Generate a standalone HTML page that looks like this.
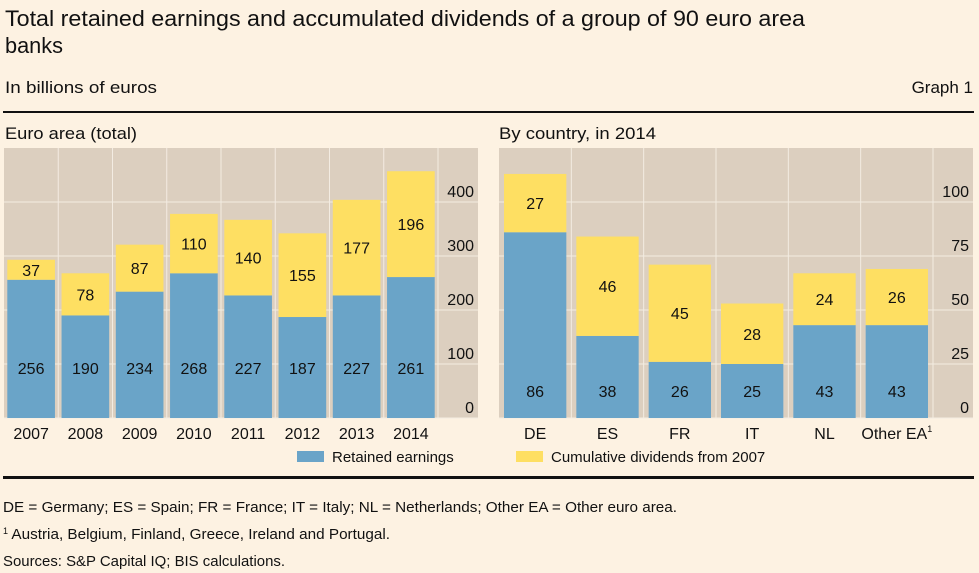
<!DOCTYPE html>
<html><head><meta charset="utf-8"><style>
html,body{margin:0;padding:0;background:#fdf2e2;}
svg{display:block;font-family:"Liberation Sans",sans-serif;}
</style></head><body>
<svg id="s" width="979" height="573" viewBox="0 0 979 573" xmlns="http://www.w3.org/2000/svg">
<rect width="979" height="573" fill="#fdf2e2"/>
<text x="5" y="26" font-size="22" fill="#111" textLength="800" lengthAdjust="spacingAndGlyphs">Total retained earnings and accumulated dividends of a group of 90 euro area</text>
<text x="5" y="53" font-size="22" fill="#111" textLength="58" lengthAdjust="spacingAndGlyphs">banks</text>
<text x="5" y="93" font-size="17" fill="#111" textLength="152" lengthAdjust="spacingAndGlyphs">In billions of euros</text>
<text x="973" y="93" font-size="17" fill="#111" text-anchor="end">Graph 1</text>
<rect x="3" y="111" width="971" height="2" fill="#111"/>
<text x="5" y="139" font-size="17" fill="#111" textLength="132" lengthAdjust="spacingAndGlyphs">Euro area (total)</text>
<text x="499" y="139" font-size="17" fill="#111" textLength="157" lengthAdjust="spacingAndGlyphs">By country, in 2014</text>
<g id="left"></g>
<g id="right"></g>
<rect x="297" y="451" width="27" height="11" fill="#6aa4c8"/>
<text x="332" y="462" font-size="15" fill="#111">Retained earnings</text>
<rect x="516" y="451" width="27" height="11" fill="#fedf62"/>
<text x="551" y="462" font-size="15" fill="#111">Cumulative dividends from 2007</text>
<rect x="3" y="476" width="971" height="3" fill="#111"/>
<text x="3" y="512" font-size="15" fill="#111" textLength="674" lengthAdjust="spacingAndGlyphs">DE = Germany; ES = Spain; FR = France; IT = Italy; NL = Netherlands; Other EA = Other euro area.</text>
<text x="3" y="539" font-size="15" fill="#111"><tspan font-size="9" dy="-5">1</tspan><tspan dy="5" textLength="382" lengthAdjust="spacingAndGlyphs"> Austria, Belgium, Finland, Greece, Ireland and Portugal.</tspan></text>
<text x="3" y="566" font-size="15" fill="#111" textLength="282" lengthAdjust="spacingAndGlyphs">Sources: S&amp;P Capital IQ; BIS calculations.</text>
</svg>
<script>
const yearCats = ["2007","2008","2009","2010","2011","2012","2013","2014"];
const yearRetained = [256,190,234,268,227,187,227,261];
const yearDividends = [37,78,87,110,140,155,177,196];
const leftTicks = [0,100,200,300,400];
const countryCats = ["DE","ES","FR","IT","NL","Other EA"];
const countryRetained = [86,38,26,25,43,43];
const countryDividends = [27,46,45,28,24,26];
const rightTicks = [0,25,50,75,100];

const NS="http://www.w3.org/2000/svg";
function mk(parent,tag,attrs){const e=document.createElementNS(NS,tag);for(const k in attrs)e.setAttribute(k,attrs[k]);parent.appendChild(e);return e;}

function chart(g,o){
  const y=v=>o.y0-(v/o.max)*(o.y0-o.yMax);
  const bg=mk(g,'rect',{x:o.x0,y:o.top,width:o.x1-o.x0,height:o.y0-o.top,fill:'#dccfbf'});
  
  
  const n=o.cats.length,bw=(o.xb-o.x0)/n;
  o.ticks.forEach(t=>{
    const l=mk(g,'line',{x1:o.x0,x2:o.x1,y1:y(t),y2:y(t),stroke:'#f3ece2','stroke-width':1});
    
    
    const tx=mk(g,'text',{x:o.x1-4,y:y(t)-5,'font-size':16,'text-anchor':'end',fill:'#111'});
    tx.textContent=t;
    
    
  });
  for(let i=1;i<=n;i++){
    const l=mk(g,'line',{x1:o.x0+i*bw,x2:o.x0+i*bw,y1:o.top,y2:o.y0,stroke:'#f3ece2','stroke-width':1});
    
    
  }
  o.cats.forEach((c,i)=>{
    const bx=o.x0+i*bw+o.pad, w=bw-2*o.pad, cx=bx+w/2;
    const a=o.r[i],b=o.d[i];
    const r1=mk(g,'rect',{x:bx,y:y(a),width:w,height:o.y0-y(a),fill:'#6aa4c8'});
    
    
    const r2=mk(g,'rect',{x:bx,y:y(a+b),width:w,height:y(a)-y(a+b),fill:'#fedf62'});
    
    
    const t1=mk(g,'text',{x:cx,y:o.labY,'font-size':16,'text-anchor':'middle',fill:'#111'});
    t1.textContent=a;
    
    
    const t2=mk(g,'text',{x:cx,y:(y(a)+y(a+b))/2+6,'font-size':16,'text-anchor':'middle',fill:'#111'});
    t2.textContent=b;
    
    
    const t3=mk(g,'text',{x:cx,y:o.y0+21,'font-size':16,'text-anchor':'middle',fill:'#111'});
    t3.textContent=c;
    if(c==="Other EA"){const s=mk(t3,'tspan',{'font-size':9,dy:-7});s.textContent='1';}
    
    
  });
}
chart(document.getElementById('left'),{cats:yearCats,r:yearRetained,d:yearDividends,ticks:leftTicks,max:400,x0:4,xb:438,x1:478,top:148,y0:418,yMax:202,pad:3.3,labY:374});
chart(document.getElementById('right'),{cats:countryCats,r:countryRetained,d:countryDividends,ticks:rightTicks,max:100,x0:499,xb:933,x1:973,top:148,y0:418,yMax:202,pad:5,labY:397});
</script>
</body></html>
